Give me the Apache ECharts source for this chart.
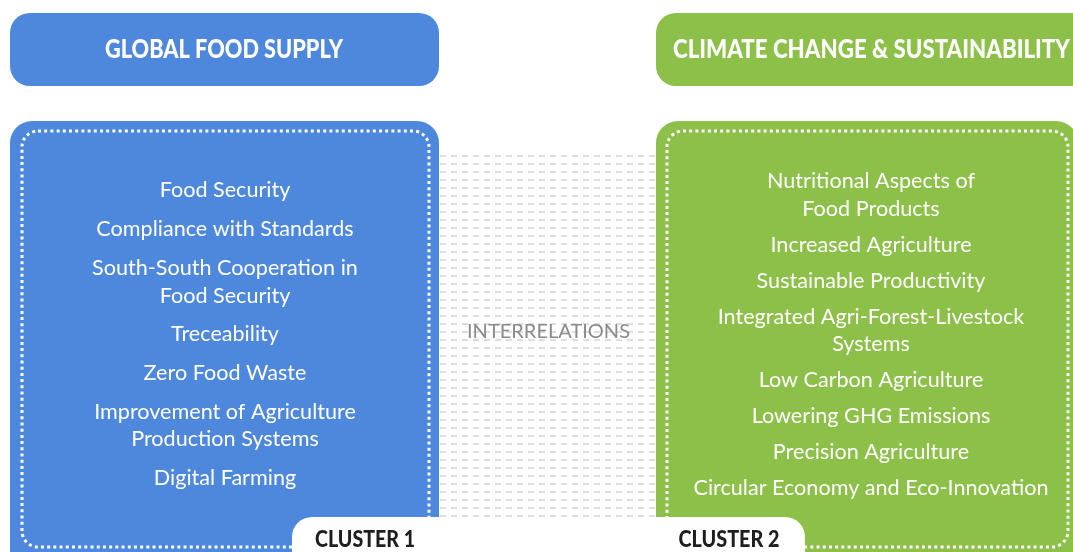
<!DOCTYPE html>
<html>
<head>
<meta charset="utf-8">
<script src="https://cdn.jsdelivr.net/npm/echarts@6/dist/echarts.min.js"></script>
<style>
  html, body { margin: 0; padding: 0; background: #fff; }
  #chart { width: 1073px; height: 552px; }
</style>
</head>
<body>
<div id="chart"></div>
<script>
const headers = ["GLOBAL FOOD SUPPLY", "CLIMATE CHANGE & SUSTAINABILITY"];
const clusterNames = ["CLUSTER 1", "CLUSTER 2"];
const middleLabel = "INTERRELATIONS";

// each item is a list of lines
const foodSupplyItems = [
  ["Food Security"],
  ["Compliance with Standards"],
  ["South-South Cooperation in", "Food Security"],
  ["Treceability"],
  ["Zero Food Waste"],
  ["Improvement of Agriculture", "Production Systems"],
  ["Digital Farming"]
];
const climateItems = [
  ["Nutritional Aspects of", "Food Products"],
  ["Increased Agriculture"],
  ["Sustainable Productivity"],
  ["Integrated Agri-Forest-Livestock", "Systems"],
  ["Low Carbon Agriculture"],
  ["Lowering GHG Emissions"],
  ["Precision Agriculture"],
  ["Circular Economy and Eco-Innovation"]
];

const BLUE = "#4e88dc";
const GREEN = "#8cc049";
const HEAD_FONT = "Lato, 'Noto Sans', sans-serif";
const BODY_FONT = "Lato, 'Noto Sans', sans-serif";

const chart = echarts.init(document.getElementById("chart"));

// squeeze bold text to a given width (the original uses a condensed face)
const measureCtx = document.createElement("canvas").getContext("2d");
function squeeze(text, font, width) {
  measureCtx.font = font;
  return width / measureCtx.measureText(text).width;
}

function dashPattern() {
  const c = document.createElement("canvas");
  c.width = 11;
  c.height = 8;
  const ctx = c.getContext("2d");
  ctx.fillStyle = "#dedede";
  ctx.fillRect(0, 3, 6, 2);
  return c;
}

function label(text, x, y, font, fill, width) {
  return {
    type: "text",
    x: x,
    y: y,
    scaleX: width ? squeeze(text, font, width) : 1,
    style: {
      text: text,
      fill: fill,
      font: font,
      align: "center",
      verticalAlign: "middle"
    }
  };
}

function itemTexts(items, cx, top, lineGap, itemGap) {
  const out = [];
  let y = top;
  items.forEach((lines) => {
    lines.forEach((line, i) => {
      out.push(label(line, cx, y, "21.6px " + BODY_FONT, "#fff"));
      if (i < lines.length - 1) y += lineGap;
    });
    y += itemGap;
  });
  return out;
}

const headFont = "900 26px " + HEAD_FONT;
const clusterFont = "900 22px " + HEAD_FONT;

const graphics = [
  // middle dash pattern
  {
    type: "rect",
    shape: { x: 440, y: 153, width: 216, height: 368 },
    style: { fill: { image: dashPattern(), repeat: "repeat" } }
  },
  label(middleLabel, 548.5, 332, "20px " + BODY_FONT, "#8a8a8a", 163),
  // header boxes
  {
    type: "rect",
    shape: { x: 10, y: 13, width: 429, height: 73, r: 20 },
    style: { fill: BLUE }
  },
  {
    type: "rect",
    shape: { x: 656, y: 13, width: 440, height: 73, r: 20 },
    style: { fill: GREEN }
  },
  label(headers[0], 224, 50, headFont, "#fff", 238),
  label(headers[1], 871.5, 50, headFont, "#fff", 397),
  // main boxes
  {
    type: "rect",
    shape: { x: 10, y: 121, width: 429, height: 460, r: 22 },
    style: { fill: BLUE }
  },
  {
    type: "rect",
    shape: { x: 656, y: 121, width: 422, height: 460, r: 22 },
    style: { fill: GREEN }
  },
  // dotted inner borders
  {
    type: "rect",
    shape: { x: 22, y: 131, width: 407, height: 416, r: 16 },
    style: { fill: "none", stroke: "#fff", lineWidth: 3, lineDash: [3, 3.2] }
  },
  {
    type: "rect",
    shape: { x: 667, y: 131, width: 401, height: 416, r: 16 },
    style: { fill: "none", stroke: "#fff", lineWidth: 3, lineDash: [3, 3.2] }
  },
  // cluster tabs
  {
    type: "rect",
    shape: { x: 292, y: 517, width: 170, height: 60, r: [20, 0, 0, 0] },
    style: { fill: "#fff" }
  },
  {
    type: "rect",
    shape: { x: 640, y: 517, width: 165, height: 60, r: [0, 20, 0, 0] },
    style: { fill: "#fff" }
  },
  label(clusterNames[0], 365, 540, clusterFont, "#1e1e1e", 100),
  label(clusterNames[1], 729, 540, clusterFont, "#1e1e1e", 101)
]
  .concat(itemTexts(foodSupplyItems, 225, 190.5, 27.5, 38.8))
  .concat(itemTexts(climateItems, 871, 181.5, 27.5, 36));

chart.setOption({
  animation: false,
  graphic: { elements: graphics }
});

window.addEventListener("resize", () => chart.resize());
</script>
</body>
</html>
